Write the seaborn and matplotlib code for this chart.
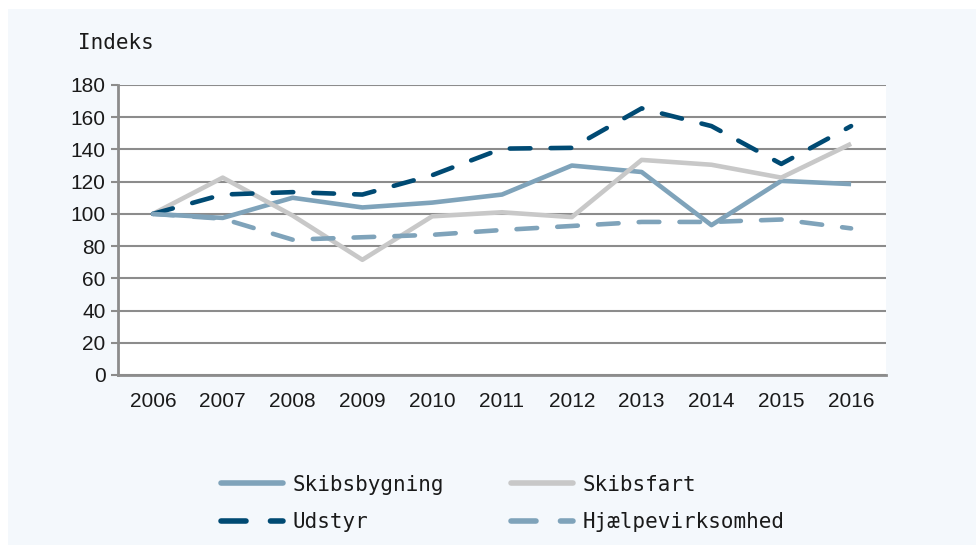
import numpy as np
import pandas as pd
import matplotlib
matplotlib.use('Agg')
import matplotlib.pyplot as plt
from matplotlib.patches import Rectangle
from matplotlib.lines import Line2D
import seaborn as sns

# data
years = ['2006', '2007', '2008', '2009', '2010', '2011', '2012', '2013', '2014', '2015', '2016']
skibsbygning = [100, 97.5, 110, 104, 107, 112, 130, 126, 93, 120.5, 118.5]
skibsfart = [100, 122.5, 99, 71.5, 98.5, 101, 98, 133.5, 130.5, 122.5, 143.5]
udstyr = [100, 112, 113.5, 112, 124, 140.5, 141, 165.5, 154.5, 131, 154.5]
hjaelp = [100, 97, 84, 85.5, 87, 90, 92.5, 95, 95, 96.5, 91]

series = ['Skibsbygning', 'Skibsfart', 'Udstyr', 'Hjælpevirksomhed']
values = [skibsbygning, skibsfart, udstyr, hjaelp]

df = pd.DataFrame({
    'x': np.tile(np.arange(len(years)), len(series)),
    'value': np.concatenate(values),
    'serie': np.repeat(series, len(years)),
})

sns.set_style('white')
plt.rcParams['font.family'] = ['Liberation Sans', 'DejaVu Sans']

fig = plt.figure(figsize=(9.76, 5.45), dpi=100)
fig.patch.set_facecolor('white')
# light blue panel behind everything
fig.patches.append(Rectangle((8 / 976, 0), 1, 1 - 9 / 545, transform=fig.transFigure,
                             facecolor='#F4F8FC', edgecolor='none', zorder=-10))

ax = fig.add_axes([118 / 976, 1 - 375 / 545, (886 - 118) / 976, 290 / 545])
ax.set_facecolor('white')

palette = {'Skibsbygning': '#7FA3BA', 'Skibsfart': '#C8C8C8',
           'Udstyr': '#004A73', 'Hjælpevirksomhed': '#7FA3BA'}
dashes = {'Skibsbygning': '', 'Skibsfart': '',
          'Udstyr': (4.5, 4.4), 'Hjælpevirksomhed': (4.5, 4.4)}

sns.lineplot(data=df, x='x', y='value', hue='serie', style='serie',
             palette=palette, dashes=dashes, hue_order=series, style_order=series,
             linewidth=3.3, ax=ax, legend=False, zorder=3)
for ln in ax.get_lines():
    ln.set_dash_capstyle('round')
    ln.set_solid_capstyle('butt')

ax.set_xlim(-0.5, len(years) - 0.5)
ax.set_ylim(0, 180)
ax.set_yticks(np.arange(0, 181, 20))
ax.yaxis.grid(True, color='#8C8C8C', linewidth=1.5, zorder=1)
ax.set_axisbelow(True)

# category axis: ticks at boundaries, labels in the middle
ax.set_xticks(np.arange(-0.5, len(years), 1))
ax.set_xticklabels([])
ax.set_xticks(np.arange(len(years)), minor=True)
ax.set_xticklabels(years, minor=True)
ax.tick_params(axis='x', which='major', length=5, width=1.5, color='#8C8C8C', direction='out')
ax.tick_params(axis='x', which='minor', length=0, pad=12, labelsize=15, labelcolor='#1A1A1A')
ax.tick_params(axis='y', length=5, width=1.5, color='#8C8C8C', pad=4, labelsize=15,
               labelcolor='#1A1A1A', left=True)

for s in ['top', 'right']:
    ax.spines[s].set_visible(False)
for s in ['left', 'bottom']:
    ax.spines[s].set_color('#8C8C8C')
    ax.spines[s].set_linewidth(2)
ax.set_xlabel('')
ax.set_ylabel('')

fig.text(78 / 976, 1 - 43 / 545, 'Indeks', fontsize=15, family='DejaVu Sans Mono',
         color='#1A1A1A', va='center', ha='left')

# legend
handles = []
for name in ['Skibsbygning', 'Udstyr', 'Skibsfart', 'Hjælpevirksomhed']:
    handles.append(Line2D([0], [0], color=palette[name], linewidth=4,
                          dashes=dashes[name] if dashes[name] else (None, None),
                          dash_capstyle='round', solid_capstyle='round', label=name))
leg = fig.legend(handles=handles, loc='center', bbox_to_anchor=(0.515, 0.076), ncol=2,
                 frameon=False, prop={'family': 'DejaVu Sans Mono', 'size': 15},
                 handlelength=3.0, handletextpad=0.45, columnspacing=3.2, labelspacing=0.85)
for t in leg.get_texts():
    t.set_color('#1A1A1A')

fig.savefig('out.png', dpi=100, facecolor=fig.get_facecolor())
